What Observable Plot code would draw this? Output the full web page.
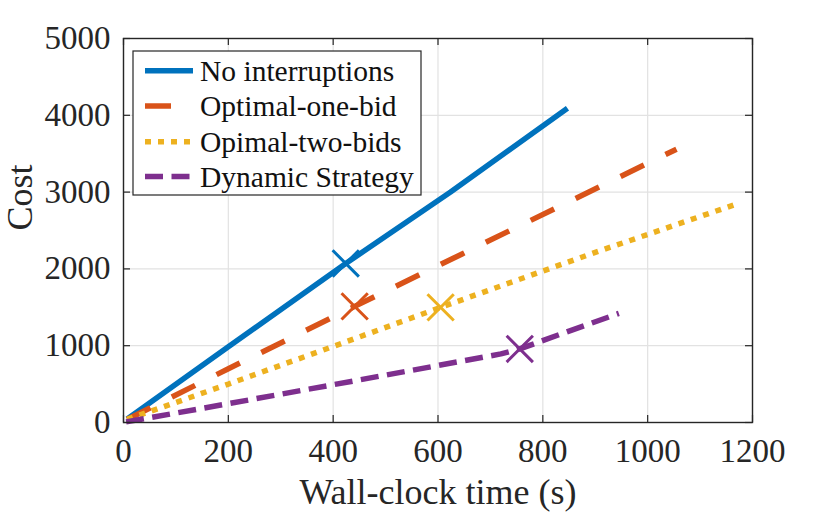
<!DOCTYPE html>
<html>
<head>
<meta charset="utf-8">
<script src="https://cdn.jsdelivr.net/npm/d3@7"></script>
<script src="https://cdn.jsdelivr.net/npm/@observablehq/plot@0.6"></script>
<style>
  html, body { margin: 0; padding: 0; background: #fff; }
  #chart { width: 830px; height: 513px; }
</style>
</head>
<body>
<div id="chart"></div>
<script>
// ---- data ----
const seriesNames = ["No interruptions", "Optimal-one-bid", "Opimal-two-bids", "Dynamic Strategy"];
const seriesColors = ["#0072BD", "#D95319", "#EDB120", "#7E2F8E"];

const noIntTime = [7, 200, 424, 624, 847];
const noIntCost = [45, 985, 2071, 3000, 4092];

const oneBidTime = [7, 200, 441, 646, 1055];
const oneBidCost = [40, 700, 1512, 2195, 3559];

const twoBidTime = [7, 200, 400, 605, 900, 1165];
const twoBidCost = [40, 500, 990, 1499, 2215, 2834];

const dynTime = [5, 200, 400, 600, 720, 756, 850, 945];
const dynCost = [8, 245, 492, 742, 893, 958, 1190, 1420];

// switch-point markers (x)
const markerTime = [424, 441, 605, 756];
const markerCost = [2071, 1512, 1499, 958];

const xTicks = [0, 200, 400, 600, 800, 1000, 1200];
const yTicks = [0, 1000, 2000, 3000, 4000, 5000];

const dashes = [null, "26,24", "6,7", "18,8.5"];

// ---- build tables ----
const times = [noIntTime, oneBidTime, twoBidTime, dynTime];
const costs = [noIntCost, oneBidCost, twoBidCost, dynCost];
const series = seriesNames.map((name, i) =>
  times[i].map((t, j) => ({name, t, c: costs[i][j]})));
const markers = markerTime.map((t, i) => ({name: seriesNames[i], t, c: markerCost[i], color: seriesColors[i]}));

const W = 830, H = 513;
const mL = 123, mR = 78, mT = 38, mB = 91;
const innerW = W - mL - mR, innerH = H - mT - mB;
const tickLen = 7;
const font = "'Liberation Serif', 'Times New Roman', serif";
const ink = "#262626";

const chart = Plot.plot({
  width: W, height: H,
  marginLeft: mL, marginRight: mR, marginTop: mT, marginBottom: mB,
  x: {domain: [0, 1200]},
  y: {domain: [0, 5000]},
  style: {fontFamily: font, background: "#fff", color: ink, overflow: "visible"},
  marks: [
    Plot.gridX(xTicks, {stroke: "#e2e2e2", strokeOpacity: 1, strokeWidth: 1.2}),
    Plot.gridY(yTicks, {stroke: "#e2e2e2", strokeOpacity: 1, strokeWidth: 1.2}),
    ...series.map((s, i) => Plot.line(s, {
      x: "t", y: "c",
      stroke: seriesColors[i], strokeWidth: 5.5,
      strokeDasharray: dashes[i] ?? undefined,
      strokeLinecap: "butt", strokeLinejoin: "miter"
    })),
    Plot.dot(markers, {x: "t", y: "c", symbol: "times", r: 12, stroke: "color", strokeWidth: 3}),
    Plot.frame({stroke: ink, strokeWidth: 1.4}),
    // inward ticks on all four sides
    Plot.tickX(xTicks, {x: d => d, insetTop: innerH - tickLen, stroke: ink, strokeWidth: 1.2}),
    Plot.tickX(xTicks, {x: d => d, insetBottom: innerH - tickLen, stroke: ink, strokeWidth: 1.2}),
    Plot.tickY(yTicks, {y: d => d, insetRight: innerW - tickLen, stroke: ink, strokeWidth: 1.2}),
    Plot.tickY(yTicks, {y: d => d, insetLeft: innerW - tickLen, stroke: ink, strokeWidth: 1.2}),
    Plot.axisX({ticks: xTicks, tickSize: 0, tickPadding: 16, fontSize: 33, tickFormat: d => String(d), label: null}),
    Plot.axisY({ticks: yTicks, tickSize: 0, tickPadding: 13, fontSize: 33, tickFormat: d => String(d), label: null}),
    Plot.text(["Wall-clock time (s)"], {frameAnchor: "bottom", dy: 70, fontSize: 36, fill: ink, lineAnchor: "middle"}),
    Plot.text(["Cost"], {frameAnchor: "left", dx: -103, rotate: -90, fontSize: 36, fill: ink})
  ]
});

document.getElementById("chart").appendChild(chart);

// ---- legend (drawn into the same svg) ----
const svg = d3.select(chart);
const lg = svg.append("g").attr("class", "legend").attr("text-anchor", "start");
const lx = 133, ly = 51, lw = 288, lh = 144;
lg.append("rect").attr("x", lx).attr("y", ly).attr("width", lw).attr("height", lh)
  .attr("fill", "#fff").attr("stroke", ink).attr("stroke-width", 1.2);
const rowY = [70.7, 106, 141.7, 176.5];
seriesNames.forEach((name, i) => {
  lg.append("line").attr("x1", 145).attr("x2", 193).attr("y1", rowY[i]).attr("y2", rowY[i])
    .attr("stroke", seriesColors[i]).attr("stroke-width", 5.5)
    .attr("stroke-dasharray", dashes[i]).attr("stroke-linecap", "butt");
  lg.append("text").attr("x", 200).attr("y", rowY[i]).attr("dy", "0.35em")
    .attr("text-anchor", "start")
    .attr("font-family", font).attr("font-size", 29.5).attr("fill", "#111")
    .text(name);
});
</script>
</body>
</html>
